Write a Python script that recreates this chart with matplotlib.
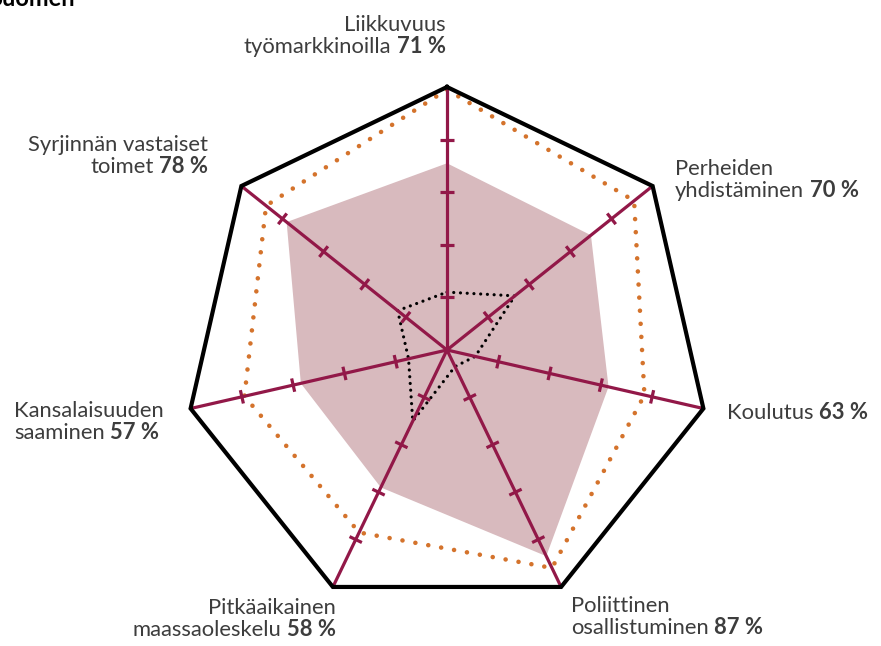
import numpy as np
import matplotlib
matplotlib.use("Agg")
import matplotlib.pyplot as plt

# ---- data ----
categories = ["Liikkuvuus\ntyömarkkinoilla", "Perheiden\nyhdistäminen", "Koulutus",
              "Poliittinen\nosallistuminen", "Pitkäaikainen\nmaassaoleskelu",
              "Kansalaisuuden\nsaaminen", "Syrjinnän vastaiset\ntoimet"]
finland = [71, 70, 63, 87, 58, 57, 78]          # shaded area
best = [99, 91, 77, 92, 77, 79, 88]             # orange dotted
worst = [22, 33, 11, 7, 30, 15, 24]             # black dotted
tick_values = [20, 40, 60, 80]
max_value = 100
title = "Suomen"

W, H = 881, 646
fig = plt.figure(figsize=(W / 100, H / 100), dpi=100)
ax = fig.add_axes([0, 0, 1, 1])
ax.axis("off")

# scale: radius 100 -> 263 px, centre at (447, 350) px from top-left
s = 263 / 100.0
cx, cy = 447, 350
ax.set_xlim(-cx / s, (W - cx) / s)
ax.set_ylim(-(H - cy) / s, cy / s)
ax.set_aspect("equal")

n = len(categories)
ang = np.pi / 2 - np.arange(n) * 2 * np.pi / n

def xy(vals):
    v = np.asarray(vals, float)
    x = v * np.cos(ang)
    y = v * np.sin(ang)
    return np.append(x, x[0]), np.append(y, y[0])

crimson = "#921848"
fillc = "#d8babe"
orange = "#d4732c"

fx, fy = xy(finland)
ax.fill(fx, fy, color=fillc, lw=0, zorder=1)

bx, by = xy(best)
ax.plot(bx, by, color=orange, lw=3.3, ls=(0, (0.01, 2.85)),
        dash_capstyle="round", zorder=2)

wx, wy = xy(worst)
ax.plot(wx, wy, color="black", lw=2.3, ls=(0, (0.01, 2.1)),
        dash_capstyle="round", zorder=2)

# axes + ticks
tl = 2.6
for a in ang:
    ax.plot([0, max_value * np.cos(a)], [0, max_value * np.sin(a)],
            color=crimson, lw=2.3, zorder=3, solid_capstyle="butt")
    for t in tick_values:
        px, py = t * np.cos(a), t * np.sin(a)
        nx, ny = -np.sin(a), np.cos(a)
        ax.plot([px - tl * nx, px + tl * nx], [py - tl * ny, py + tl * ny],
                color=crimson, lw=2.3, zorder=3, solid_capstyle="butt")

ox, oy = xy([max_value] * n)
ax.plot(ox, oy, color="black", lw=3.0, zorder=4, solid_joinstyle="miter")

# ---- labels ----
FONT = "Lato"
FS = 15.8
TC = "#3d3d3d"

def T(x, y):
    return (x / W, 1 - y / H)

def label(x, y_base, lines, pct, ha):
    """lines: list of strings; last line gets bold pct appended."""
    for i, ln in enumerate(lines):
        yb = y_base + i * 22
        last = i == len(lines) - 1
        if not last:
            ax.text(*T(x, yb), ln, transform=ax.transAxes, ha=ha, va="baseline",
                    fontsize=FS, family=FONT, color=TC)
        else:
            if ha == "right":
                b = ax.text(*T(x, yb), pct, transform=ax.transAxes, ha="right",
                            va="baseline", fontsize=FS, family=FONT,
                            weight="bold", color=TC)
                ax.annotate(ln, xy=(0, 0), xycoords=b, xytext=(-4, 0),
                            textcoords="offset points", ha="right", va="bottom",
                            fontsize=FS, family=FONT, color=TC)
            else:
                t = ax.text(*T(x, yb), ln, transform=ax.transAxes, ha="left",
                            va="baseline", fontsize=FS, family=FONT, color=TC)
                ax.annotate(pct, xy=(1, 0), xycoords=t, xytext=(4, 0),
                            textcoords="offset points", ha="left", va="bottom",
                            fontsize=FS, family=FONT, weight="bold", color=TC)

pcts = [f"{v} %" for v in finland]
specs = [
    (446, 31, "right"),
    (675, 175, "left"),
    (727, 419, "left"),
    (571, 612, "left"),
    (336, 614, "right"),
    (14, 417, "left"),
    (208, 151, "right"),
]
for cat, p, (x, yb, ha) in zip(categories, pcts, specs):
    label(x, yb, cat.split("\n"), p, ha)

fig.text(75 / W, 1 - 6 / H, title, ha="right", va="baseline", fontsize=17,
         weight="bold", family=FONT, color="black")

fig.savefig("out.png", dpi=100)
